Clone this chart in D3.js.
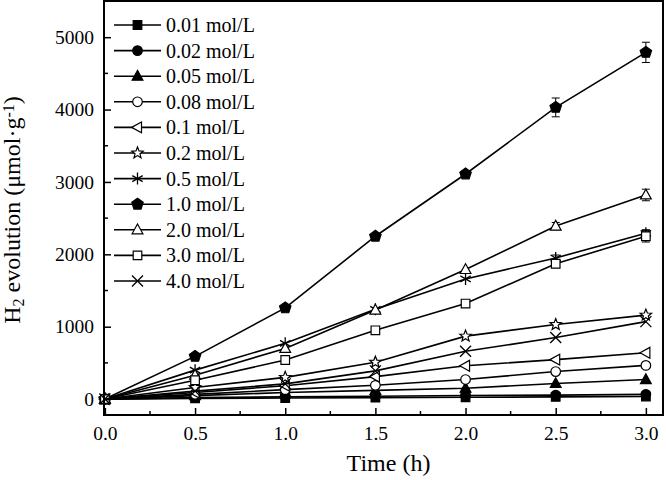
<!DOCTYPE html>
<html>
<head>
<meta charset="utf-8">
<script src="https://cdn.jsdelivr.net/npm/d3@7"></script>
<style>
  body { margin: 0; background: #fff; }
  svg text { font-family: "Liberation Serif", "Times New Roman", serif; fill: #000; }
</style>
</head>
<body>
<div id="chart"></div>
<script>
// time points (h)
const times = [0, 0.5, 1.0, 1.5, 2.0, 2.5, 3.0];

// concentration labels, in legend order
const concLabels = ["0.01 mol/L", "0.02 mol/L", "0.05 mol/L", "0.08 mol/L", "0.1 mol/L",
  "0.2 mol/L", "0.5 mol/L", "1.0 mol/L", "2.0 mol/L", "3.0 mol/L", "4.0 mol/L"];

// H2 evolution (umol/g) for each concentration
const h2_001 = [0, 10, 15, 20, 25, 30, 35];
const h2_002 = [0, 20, 30, 40, 50, 55, 65];
const h2_005 = [0, 48, 90, 120, 150, 215, 270];
const h2_008 = [0, 65, 130, 190, 270, 380, 465];
const h2_01 = [0, 90, 185, 310, 460, 545, 640];
const h2_02 = [0, 160, 300, 510, 870, 1030, 1160];
const h2_05 = [0, 400, 770, 1240, 1660, 1950, 2290];
const h2_10 = [0, 590, 1260, 2250, 3110, 4030, 4790];
const h2_20 = [0, 330, 700, 1230, 1790, 2390, 2820];
const h2_30 = [0, 260, 540, 950, 1320, 1870, 2250];
const h2_40 = [0, 110, 210, 390, 660, 850, 1070];

// error bars (only the visible ones)
const err_05 = [0, 0, 0, 0, 0, 40, 50];
const err_10 = [0, 0, 0, 0, 40, 130, 140];
const err_20 = [0, 0, 0, 0, 0, 50, 80];
const err_30 = [0, 0, 0, 0, 0, 0, 80];
const zeroErr = [0, 0, 0, 0, 0, 0, 0];

// tick values
const xTicks = [0, 0.5, 1.0, 1.5, 2.0, 2.5, 3.0];
const xMinor = [0.25, 0.75, 1.25, 1.75, 2.25, 2.75];
const yTicks = [0, 1000, 2000, 3000, 4000, 5000];
const yMinor = [500, 1500, 2500, 3500, 4500];

const seriesValues = [h2_001, h2_002, h2_005, h2_008, h2_01, h2_02, h2_05, h2_10, h2_20, h2_30, h2_40];
const seriesErr = [zeroErr, zeroErr, zeroErr, zeroErr, zeroErr, zeroErr, err_05, err_10, err_20, err_30, zeroErr];
const markers = ["square", "circle", "triangle", "circleOpen", "leftTriOpen", "starOpen",
  "asterisk", "pentagon", "triangleOpen", "squareOpen", "cross"];

// set the dimensions and margins of the graph
const margin = {top: 1, right: 3, bottom: 65, left: 104},
    width = 666 - margin.left - margin.right,
    height = 480 - margin.top - margin.bottom;

const x = d3.scaleLinear().domain([-0.005, 3.095]).range([0, width]);
const y = d3.scaleLinear().domain([-220, 5500]).range([height, 0]);

const svg = d3.select("#chart").append("svg")
    .attr("width", 666)
    .attr("height", 480)
    .append("g")
    .attr("transform", "translate(" + margin.left + "," + margin.top + ")");

// marker path builders
const poly = (pts) => "M" + pts.map(p => p[0].toFixed(2) + "," + p[1].toFixed(2)).join("L") + "Z";
const markerPath = (type) => {
  switch (type) {
    case "square": case "squareOpen":
      return poly([[-4.3, -4.3], [4.3, -4.3], [4.3, 4.3], [-4.3, 4.3]]);
    case "circle": case "circleOpen":
      return "M4.8,0A4.8,4.8 0 1,1 -4.8,0A4.8,4.8 0 1,1 4.8,0Z";
    case "triangle": case "triangleOpen":
      return poly([[0, -5.8], [5.4, 4], [-5.4, 4]]);
    case "leftTriOpen":
      return poly([[-5.8, 0], [4, -5.4], [4, 5.4]]);
    case "starOpen": {
      const pts = [];
      for (let i = 0; i < 10; i++) {
        const rr = i % 2 === 0 ? 6 : 2.6;
        const a = -Math.PI / 2 + i * Math.PI / 5;
        pts.push([rr * Math.cos(a), rr * Math.sin(a)]);
      }
      return poly(pts);
    }
    case "pentagon": {
      const pts = [];
      for (let i = 0; i < 5; i++) {
        const a = -Math.PI / 2 + i * 2 * Math.PI / 5;
        pts.push([6 * Math.cos(a), 6 * Math.sin(a)]);
      }
      return poly(pts);
    }
    case "asterisk": {
      let d = "";
      [90, 30, 150].forEach(deg => {
        const a = deg * Math.PI / 180;
        d += "M" + (-6 * Math.cos(a)).toFixed(2) + "," + (-6 * Math.sin(a)).toFixed(2) +
             "L" + (6 * Math.cos(a)).toFixed(2) + "," + (6 * Math.sin(a)).toFixed(2);
      });
      return d;
    }
    case "cross":
      return "M-5.5,-5.5L5.5,5.5M-5.5,5.5L5.5,-5.5";
  }
  return "";
};
const isFilled = (t) => t === "square" || t === "circle" || t === "triangle" || t === "pentagon";
const isStroke = (t) => t === "asterisk" || t === "cross";

const drawMarker = (g, type, cx, cy) => {
  g.append("path")
    .attr("d", markerPath(type))
    .attr("transform", "translate(" + cx + "," + cy + ")")
    .attr("fill", isStroke(type) ? "none" : (isFilled(type) ? "#000" : "#fff"))
    .attr("stroke", "#000")
    .attr("stroke-width", isStroke(type) ? 1.3 : 1.2)
    .attr("stroke-linejoin", "miter");
};

// line generator
const valueline = d3.line()
    .x(d => x(d.t))
    .y(d => y(d.v));

// draw series
seriesValues.forEach((vals, i) => {
  const data = times.map((t, j) => ({t: t, v: vals[j], e: seriesErr[i][j]}));
  svg.append("path")
    .datum(data)
    .attr("fill", "none")
    .attr("stroke", "#000")
    .attr("stroke-width", 1.6)
    .attr("d", valueline);

  const g = svg.append("g");
  // error bars
  data.filter(d => d.e > 0).forEach(d => {
    const cx = x(d.t);
    g.append("path")
      .attr("d", "M" + cx + "," + y(d.v - d.e) + "V" + y(d.v + d.e) +
                 "M" + (cx - 4) + "," + y(d.v - d.e) + "H" + (cx + 4) +
                 "M" + (cx - 4) + "," + y(d.v + d.e) + "H" + (cx + 4))
      .attr("stroke", "#000")
      .attr("stroke-width", 1)
      .attr("fill", "none");
  });
  data.forEach(d => drawMarker(g, markers[i], x(d.t), y(d.v)));
});

// axes
const xAxis = svg.append("g")
    .attr("transform", "translate(0," + height + ")")
    .call(d3.axisBottom(x).tickValues(xTicks).tickFormat(d3.format(".1f"))
      .tickSizeInner(-7).tickSizeOuter(0).tickPadding(11));
xAxis.append("g").selectAll("line").data(xMinor).enter().append("line")
    .attr("x1", d => x(d)).attr("x2", d => x(d))
    .attr("y1", 0).attr("y2", -4)
    .attr("stroke", "#000").attr("stroke-width", 1.5);

const yAxis = svg.append("g")
    .call(d3.axisLeft(y).tickValues(yTicks).tickFormat(d3.format("d"))
      .tickSizeInner(-7).tickSizeOuter(0).tickPadding(10));
yAxis.append("g").selectAll("line").data(yMinor).enter().append("line")
    .attr("x1", 0).attr("x2", 4)
    .attr("y1", d => y(d)).attr("y2", d => y(d))
    .attr("stroke", "#000").attr("stroke-width", 1.5);

[xAxis, yAxis].forEach(a => {
  a.select(".domain").remove();
  a.selectAll(".tick line").attr("stroke-width", 1.5);
  a.selectAll(".tick text").style("font-size", "19.5px")
    .style("font-family", "'Liberation Serif', 'Times New Roman', serif");
});

// frame
svg.append("rect")
    .attr("x", 0).attr("y", 0)
    .attr("width", width).attr("height", height)
    .attr("fill", "none")
    .attr("stroke", "#000")
    .attr("stroke-width", 2);

// axis titles
svg.append("text")
    .attr("x", width / 2 + 5)
    .attr("y", height + 56)
    .attr("text-anchor", "middle")
    .style("font-size", "24px")
    .text("Time (h)");

const yTitle = svg.append("text")
    .attr("transform", "translate(" + (-84) + "," + (height / 2 + 2) + ") rotate(-90)")
    .attr("text-anchor", "middle")
    .style("font-size", "24px");
yTitle.append("tspan").text("H");
yTitle.append("tspan").attr("baseline-shift", "-25%").style("font-size", "16px").text("2");
yTitle.append("tspan").text(" evolution (μmol·g");
yTitle.append("tspan").attr("baseline-shift", "40%").style("font-size", "16px").text("-1");
yTitle.append("tspan").text(")");

// Handmade legend
const legend = svg.append("g").attr("transform", "translate(10,24)");
concLabels.forEach((lab, i) => {
  const ly = i * 25.6;
  legend.append("line")
    .attr("x1", 0).attr("x2", 47)
    .attr("y1", ly).attr("y2", ly)
    .attr("stroke", "#000").attr("stroke-width", 1.6);
  drawMarker(legend, markers[i], 23.5, ly);
  legend.append("text")
    .attr("x", 52).attr("y", ly + 7)
    .style("font-size", "20px")
    .text(lab);
});
</script>
</body>
</html>
